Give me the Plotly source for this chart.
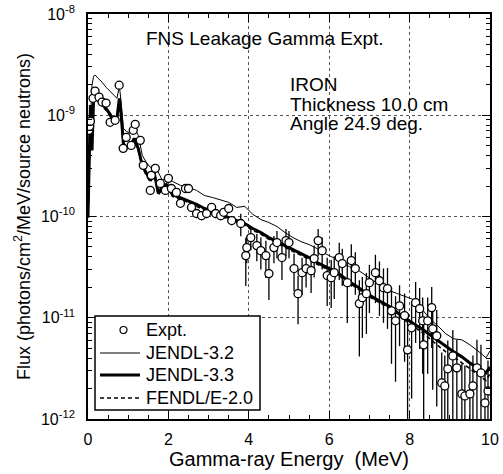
import plotly.graph_objects as go

# ---------------- data ----------------
expt_E = [0.02, 0.04, 0.06, 0.125, 0.175, 0.275, 0.35, 0.45, 0.55, 0.675, 0.775, 0.875, 0.95,
          1.075, 1.125, 1.175, 1.3, 1.375, 1.55, 1.575, 1.675, 1.8, 1.925, 2.0, 2.075, 2.2, 2.3,
          2.425, 2.5, 2.575, 2.7, 2.825, 2.95, 3.075, 3.175, 3.3, 3.375, 3.5, 3.575, 3.8, 3.925,
          3.95, 4.05, 4.2, 4.3, 4.425, 4.5, 4.625, 4.7, 4.825, 4.925, 5.0, 5.125, 5.225, 5.325,
          5.425, 5.55, 5.625, 5.725, 5.825, 5.95, 6.05, 6.125, 6.25, 6.325, 6.45, 6.55, 6.65,
          6.75, 6.825, 6.925, 7.0, 7.15, 7.25, 7.35, 7.45, 7.55, 7.65, 7.75, 7.875, 7.95, 8.05,
          8.15, 8.25, 8.325, 8.35, 8.45, 8.55, 8.575, 8.675, 8.8, 8.875, 8.95, 9.075, 9.175,
          9.3, 9.375, 9.5, 9.575, 9.675, 9.775, 9.875, 9.95]
expt_flux = [7.10e-10, 7.78e-10, 8.72e-10, 1.47e-9, 1.73e-9, 1.51e-9, 1.35e-9, 1.32e-9, 8.52e-10,
             8.91e-10, 1.98e-9, 4.71e-10, 6.05e-10, 5.04e-10, 7.10e-10, 8.14e-10, 5.65e-10, 3.20e-10,
             1.81e-10, 2.55e-10, 2.99e-10, 2.12e-10, 1.81e-10, 2.38e-10, 1.89e-10, 1.73e-10, 1.35e-10,
             1.89e-10, 1.89e-10, 1.23e-10, 1.07e-10, 1.02e-10, 1.07e-10, 1.23e-10, 1.07e-10, 1.02e-10,
             1.10e-10, 1.20e-10, 9.12e-11, 8.53e-11, 4.11e-11, 4.93e-11, 6.19e-11, 5.16e-11, 4.60e-11,
             4.11e-11, 2.73e-11, 4.93e-11, 5.53e-11, 3.93e-11, 5.78e-11, 5.53e-11, 3.06e-11, 1.73e-11,
             2.79e-11, 3.06e-11, 2.92e-11, 3.84e-11, 5.78e-11, 4.60e-11, 2.61e-11, 2.49e-11, 2.79e-11,
             3.93e-11, 3.43e-11, 2.22e-11, 3.67e-11, 3.06e-11, 1.38e-11, 1.58e-11, 1.73e-11, 2.22e-11,
             2.79e-11, 2.32e-11, 1.98e-11, 1.94e-11, 1.17e-11, 9.33e-12, 1.31e-11, 1.05e-11, 4.82e-12,
             7.96e-12, 1.41e-11, 1.23e-11, 9.33e-12, 5.40e-12, 9.33e-12, 1.26e-11, 7.78e-12, 6.63e-12,
             2.27e-12, 2.12e-12, 3.13e-12, 4.20e-12, 3.20e-12, 1.77e-12, 1.69e-12, 1.77e-12, 2.12e-12,
             3.20e-12, 2.85e-12, 1.44e-12, 1.89e-12]
expt_relerr = [0.04] * 18 + [0.06] * 11 + [0.1] * 10 + [0.25,
               0.5, 0.3, 0.25, 0.3, 0.35, 0.4, 0.45, 0.3, 0.3, 0.4, 0.3, 0.3, 0.4, 0.5, 0.4,
               0.35, 0.4, 0.35, 0.3, 0.35, 0.5, 0.5, 0.45, 0.4, 0.4, 0.6, 0.45, 0.45, 0.7, 0.6,
               0.6, 0.5, 0.5, 0.55, 0.55, 0.6, 0.7, 0.75, 0.6, 0.65, 0.95, 0.8, 0.6, 0.6, 0.7,
               0.9, 0.7, 0.6, 0.75, 0.8, 1.0, 1.0, 0.9, 0.8, 0.9, 1.0, 1.0, 1.0, 1.0, 0.9, 0.9,
               1.0, 1.0]

calc_E = [0.0, 0.03, 0.06, 0.1, 0.14, 0.18, 0.25, 0.35, 0.45, 0.55, 0.65, 0.72, 0.78, 0.82, 0.88,
          0.95, 1.05, 1.15, 1.25, 1.35, 1.45, 1.55, 1.65, 1.75, 1.85, 1.95, 2.1, 2.3, 2.5, 2.7, 2.9,
          3.1, 3.3, 3.5, 3.7, 3.9, 4.1, 4.3, 4.5, 4.7, 4.9, 5.1, 5.3, 5.5, 5.7, 5.9, 6.1, 6.3, 6.5,
          6.7, 6.9, 7.1, 7.3, 7.5, 7.7, 7.9, 8.1, 8.3, 8.5, 8.7, 8.9, 9.1, 9.3, 9.5, 9.7, 9.9, 10.0]
jendl32 = [9.78e-11, 1.81e-10, 8.91e-10, 1.98e-9, 2.43e-9, 2.49e-9, 2.32e-9, 2.12e-9, 1.89e-9,
           1.73e-9, 1.58e-9, 1.47e-9, 1.94e-9, 1.41e-9, 7.43e-10, 6.95e-10, 6.63e-10, 7.61e-10,
           6.33e-10, 4.02e-10, 3.43e-10, 3.06e-10, 3.27e-10, 2.73e-10, 2.27e-10, 2.49e-10, 2.22e-10,
           2.03e-10, 1.94e-10, 1.81e-10, 1.61e-10, 1.54e-10, 1.47e-10, 1.38e-10, 1.23e-10, 1.26e-10,
           1.05e-10, 9.33e-11, 8.72e-11, 7.96e-11, 6.95e-11, 6.19e-11, 5.65e-11, 5.28e-11, 4.82e-11,
           4.30e-11, 3.93e-11, 3.58e-11, 3.20e-11, 2.99e-11, 2.61e-11, 2.32e-11, 2.07e-11, 1.85e-11,
           1.73e-11, 1.61e-11, 1.51e-11, 1.23e-11, 9.78e-12, 8.33e-12, 6.95e-12, 6.19e-12, 6.05e-12,
           5.40e-12, 4.71e-12, 4.02e-12, 4.71e-12]
jendl33 = [9.78e-11, 4.50e-10, 1.26e-9, 4.50e-10, 1.51e-9, 1.51e-9, 1.41e-9, 1.29e-9, 1.17e-9,
           1.02e-9, 8.52e-10, 9.33e-10, 1.47e-9, 1.07e-9, 5.28e-10, 4.71e-10, 4.93e-10, 5.92e-10,
           4.71e-10, 3.20e-10, 2.67e-10, 2.27e-10, 2.67e-10, 1.69e-10, 1.98e-10, 2.07e-10, 1.65e-10,
           1.54e-10, 1.44e-10, 1.32e-10, 1.20e-10, 1.12e-10, 1.05e-10, 9.78e-11, 9.12e-11, 8.53e-11,
           7.61e-11, 6.95e-11, 6.19e-11, 5.65e-11, 5.16e-11, 4.71e-11, 4.30e-11, 3.93e-11, 3.51e-11,
           3.20e-11, 2.92e-11, 2.61e-11, 2.27e-11, 2.03e-11, 1.77e-11, 1.58e-11, 1.44e-11, 1.29e-11,
           1.12e-11, 9.78e-12, 8.72e-12, 7.78e-12, 6.79e-12, 5.92e-12, 5.16e-12, 4.60e-12, 4.11e-12,
           3.58e-12, 3.20e-12, 2.85e-12, 3.27e-12]
fendl20 = [9.78e-11, 4.2e-10, 1.2e-9, 5.0e-10, 1.45e-9, 1.45e-9, 1.36e-9, 1.24e-9, 1.12e-9,
           9.8e-10, 8.2e-10, 9.0e-10, 1.40e-9, 1.02e-9, 5.1e-10, 4.5e-10, 4.75e-10, 5.7e-10,
           4.5e-10, 3.1e-10, 2.55e-10, 2.2e-10, 2.55e-10, 1.62e-10, 1.9e-10, 1.98e-10, 1.58e-10,
           1.47e-10, 1.38e-10, 1.26e-10, 1.15e-10, 1.07e-10, 1.0e-10, 9.4e-11, 8.8e-11, 8.2e-11,
           7.3e-11, 6.7e-11, 5.95e-11, 5.45e-11, 4.95e-11, 4.5e-11, 4.15e-11, 3.78e-11, 3.38e-11,
           3.08e-11, 2.8e-11, 2.5e-11, 2.2e-11, 1.96e-11, 1.7e-11, 1.52e-11, 1.38e-11, 1.24e-11,
           1.07e-11, 9.3e-12, 8.2e-12, 7.2e-12, 6.2e-12, 5.3e-12, 4.6e-12, 4.1e-12, 3.6e-12,
           3.1e-12, 2.75e-12, 2.4e-12, 2.8e-12]

y_tickvals = [1e-12, 1e-11, 1e-10, 1e-9, 1e-8]
y_ticktext = ["10<sup>-12</sup>", "10<sup>-11</sup>", "10<sup>-10</sup>", "10<sup>-9</sup>", "10<sup>-8</sup>"]
x_tickvals = [0, 2, 4, 6, 8, 10]
legend_labels = ["Expt.", "JENDL-3.2", "JENDL-3.3", "FENDL/E-2.0"]

# ---------------- layout geometry (pixels) ----------------
W, H = 503, 474
ML, MR, MT, MB = 88, 13, 14, 55
PW, PH = W - ML - MR, H - MT - MB


def px(xp):
    return (xp - ML) / PW


def py(yp):
    return (H - MB - yp) / PH


FONT = "Liberation Sans, Arial, Helvetica, sans-serif"
err_plus = [f * r for f, r in zip(expt_flux, expt_relerr)]
err_minus = [f * min(r, 0.995) for f, r in zip(expt_flux, expt_relerr)]

fig = go.Figure()
fig.add_trace(go.Scatter(x=calc_E, y=jendl32, mode="lines", name=legend_labels[1],
                         line=dict(color="black", width=1), showlegend=False))
fig.add_trace(go.Scatter(x=calc_E, y=jendl33, mode="lines", name=legend_labels[2],
                         line=dict(color="black", width=3), showlegend=False))
fig.add_trace(go.Scatter(x=calc_E, y=fendl20, mode="lines", name=legend_labels[3],
                         line=dict(color="black", width=1.6, dash="4px,3px"), showlegend=False))
fig.add_trace(go.Scatter(x=expt_E, y=expt_flux, mode="markers", name=legend_labels[0],
                         marker=dict(symbol="circle", size=8, color="white",
                                     line=dict(color="black", width=1.3)),
                         error_y=dict(type="data", array=err_plus, arrayminus=err_minus,
                                      color="black", thickness=1.3, width=0),
                         showlegend=False))

minor_y = [k * 10.0 ** n for n in range(-12, -8) for k in range(2, 10)]
minor_x = [i * 0.5 for i in range(0, 21)]

fig.update_layout(
    width=W, height=H,
    margin=dict(l=ML, r=MR, t=MT, b=MB, autoexpand=False),
    paper_bgcolor="white", plot_bgcolor="white",
    font=dict(family=FONT, color="black", size=16),
    showlegend=False,
    xaxis=dict(range=[0, 10], tickvals=x_tickvals, ticks="inside", ticklen=8, tickwidth=1.2,
               tickcolor="black", showline=True, linecolor="black", linewidth=1.8,
               mirror="allticks", showgrid=True, gridcolor="#555", griddash="dot", gridwidth=1,
               zeroline=False, tickfont=dict(size=16), ticklabelstandoff=5, automargin=False,
               minor=dict(tickvals=minor_x, ticks="inside", ticklen=4, tickcolor="black",
                          showgrid=False),
               title=dict(text="Gamma-ray Energy \u00a0(MeV)", font=dict(size=20), standoff=2)),
    yaxis=dict(type="log", range=[-12, -8], tickvals=y_tickvals, ticktext=y_ticktext,
               ticks="inside", ticklen=8, tickwidth=1.2, tickcolor="black",
               showline=True, linecolor="black", linewidth=1.8, mirror="allticks",
               showgrid=True, gridcolor="#555", griddash="dot", gridwidth=1,
               zeroline=False, tickfont=dict(size=16), ticklabelstandoff=8, automargin=False,
               minor=dict(tickvals=minor_y, ticks="inside", ticklen=4, tickcolor="black",
                          showgrid=False),
               title=dict(text="Flux (photons/cm<sup>2</sup>/MeV/source neutrons)",
                          font=dict(size=18), standoff=6)),
)

fig.add_annotation(x=4.4, y=-8.24, xref="x", yref="y", text="FNS Leakage Gamma Expt.",
                   showarrow=False, font=dict(size=19, family=FONT), xanchor="center", yanchor="middle")
for i, line in enumerate(["IRON", "Thickness 10.0 cm", "Angle 24.9 deg."]):
    fig.add_annotation(x=4.97, y=-8.70 - i * 0.19, xref="x", yref="y", text=line,
                       showarrow=False, font=dict(size=19, family=FONT),
                       xanchor="left", yanchor="middle")

# ---------------- manual legend ----------------
fig.add_shape(type="rect", xref="paper", yref="paper", x0=px(95), x1=px(260), y0=py(410), y1=py(316),
              line=dict(color="black", width=1.5), fillcolor="white", layer="above")
rows = [330, 353, 375, 398]
fig.add_shape(type="circle", xref="paper", yref="paper", x0=px(120), x1=px(127),
              y0=py(rows[0] + 3.5), y1=py(rows[0] - 3.5), line=dict(color="black", width=1.2),
              fillcolor="white", layer="above")
fig.add_shape(type="line", xref="paper", yref="paper", x0=px(100), x1=px(140), y0=py(rows[1]), y1=py(rows[1]),
              line=dict(color="black", width=1), layer="above")
fig.add_shape(type="line", xref="paper", yref="paper", x0=px(100), x1=px(140), y0=py(rows[2]), y1=py(rows[2]),
              line=dict(color="black", width=3), layer="above")
fig.add_shape(type="line", xref="paper", yref="paper", x0=px(100), x1=px(140), y0=py(rows[3]), y1=py(rows[3]),
              line=dict(color="black", width=1.6, dash="4px,3px"), layer="above")
for r, lab in zip(rows, legend_labels):
    fig.add_annotation(x=px(144), y=py(r), xref="paper", yref="paper", text=lab, showarrow=False,
                       font=dict(size=18, family=FONT), xanchor="left", yanchor="middle")

fig.write_html("out.html")
